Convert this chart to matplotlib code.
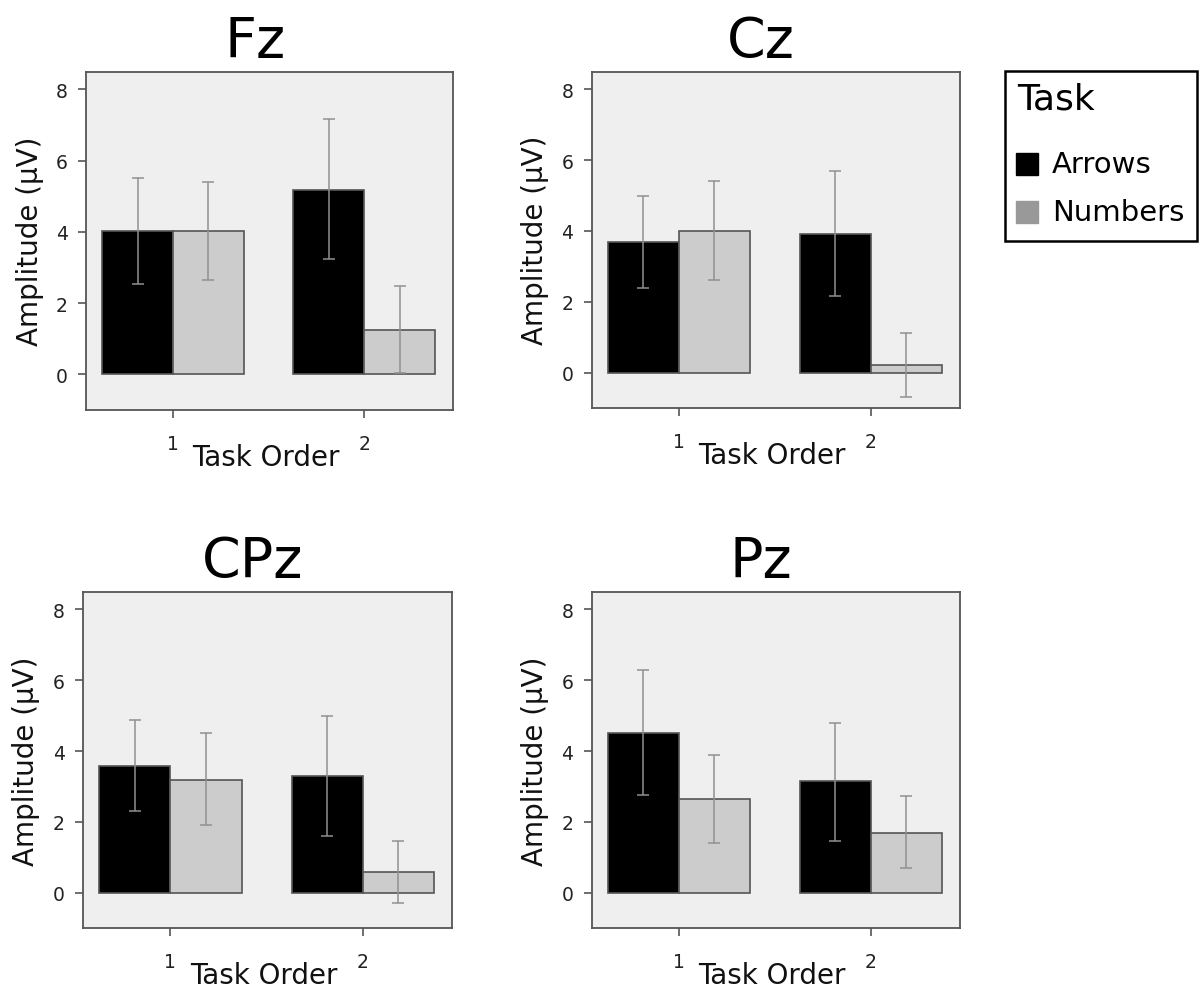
import matplotlib
matplotlib.use('Agg')
import matplotlib.pyplot as plt
from matplotlib.patches import Rectangle
import numpy as np

# channels / task order
channels = ['Fz', 'Cz', 'CPz', 'Pz']
task_order = [1, 2]
task_names = ['Arrows', 'Numbers']

# mean amplitude per channel, [order1, order2]
arrows = {'Fz': [4.03, 5.18], 'Cz': [3.69, 3.92], 'CPz': [3.58, 3.29], 'Pz': [4.52, 3.14]}
numbers = {'Fz': [4.03, 1.25], 'Cz': [3.99, 0.21], 'CPz': [3.19, 0.58], 'Pz': [2.64, 1.69]}

# error bar limits (low, high)
arrows_lo = {'Fz': [2.53, 3.23], 'Cz': [2.38, 2.15], 'CPz': [2.30, 1.59], 'Pz': [2.77, 1.45]}
arrows_hi = {'Fz': [5.52, 7.18], 'Cz': [4.99, 5.70], 'CPz': [4.88, 4.99], 'Pz': [6.30, 4.80]}
numbers_lo = {'Fz': [2.64, 0.03], 'Cz': [2.62, -0.70], 'CPz': [1.92, -0.30], 'Pz': [1.41, 0.70]}
numbers_hi = {'Fz': [5.40, 2.47], 'Cz': [5.40, 1.13], 'CPz': [4.51, 1.45], 'Pz': [3.88, 2.72]}

positions = {
    'Fz': [0.0717, 0.587, 0.306, 0.340],
    'Cz': [0.493, 0.589, 0.307, 0.338],
    'CPz': [0.069, 0.0663, 0.308, 0.338],
    'Pz': [0.493, 0.0663, 0.307, 0.338],
}

spine_col = '#555555'
err_col = '#909090'
bar_w = 0.37

fig = plt.figure(figsize=(12, 9.95), dpi=100)

for ch in channels:
    ax = fig.add_axes(positions[ch])
    ax.set_facecolor('#efefef')
    x = np.array(task_order, dtype=float)
    a = np.array(arrows[ch])
    n = np.array(numbers[ch])
    ax.bar(x - bar_w / 2, a, bar_w, color='black', edgecolor=spine_col, linewidth=1.2, zorder=2)
    ax.bar(x + bar_w / 2, n, bar_w, color='#cccccc', edgecolor=spine_col, linewidth=1.2, zorder=2)
    a_err = [a - np.array(arrows_lo[ch]), np.array(arrows_hi[ch]) - a]
    n_err = [n - np.array(numbers_lo[ch]), np.array(numbers_hi[ch]) - n]
    ax.errorbar(x - bar_w / 2, a, yerr=a_err, fmt='none', ecolor=err_col, elinewidth=1.1,
                capsize=4.5, capthick=1.1, zorder=3)
    ax.errorbar(x + bar_w / 2, n, yerr=n_err, fmt='none', ecolor=err_col, elinewidth=1.1,
                capsize=4.5, capthick=1.1, zorder=3)

    ax.set_xlim(0.545, 2.466)
    ax.set_ylim(-1.0, 8.5)
    ax.set_xticks(task_order)
    ax.set_xticklabels([str(t) for t in task_order])
    ax.set_yticks([0, 2, 4, 6, 8])
    ax.tick_params(axis='y', length=6, width=1.2, color=spine_col, labelsize=13.5, pad=7, labelcolor='#222222')
    ax.tick_params(axis='x', length=6, width=1.2, color=spine_col, labelsize=13.5, pad=11, labelcolor='#222222')
    for s in ax.spines.values():
        s.set_color(spine_col)
        s.set_linewidth(1.3)

    ax.set_xlabel('Task Order', fontsize=20, color='#111111')
    ax.xaxis.set_label_coords(0.49, -0.14)
    ax.xaxis.label.set_va('center')
    ax.set_ylabel('Amplitude (μV)', fontsize=20, color='#111111')
    ax.yaxis.set_label_coords(-0.153, 0.5)
    ax.yaxis.label.set_va('center')
    ax.set_title(ch, fontsize=40, x=0.46, pad=11)

# legend box (drawn by hand to match spacing)
W, H = 1200.0, 995.0
fig.patches.append(Rectangle((1005 / W, 1 - 242 / H), 192 / W, 170 / H, transform=fig.transFigure,
                             facecolor='white', edgecolor='black', linewidth=1.8, zorder=5))
fig.text(1017 / W, 1 - 99 / H, 'Task', fontsize=26, ha='left', va='center', zorder=6)
legend_cols = ['black', '#999999']
for i, name in enumerate(task_names):
    yc = [165, 213][i]
    fig.patches.append(Rectangle((1016 / W, 1 - (yc + 11) / H), 22 / W, 22 / H, transform=fig.transFigure,
                                 facecolor=legend_cols[i], edgecolor=legend_cols[i], linewidth=1, zorder=6))
    fig.text(1052 / W, 1 - yc / H, name, fontsize=21, ha='left', va='center', zorder=6)

fig.savefig('out.png', dpi=100)
